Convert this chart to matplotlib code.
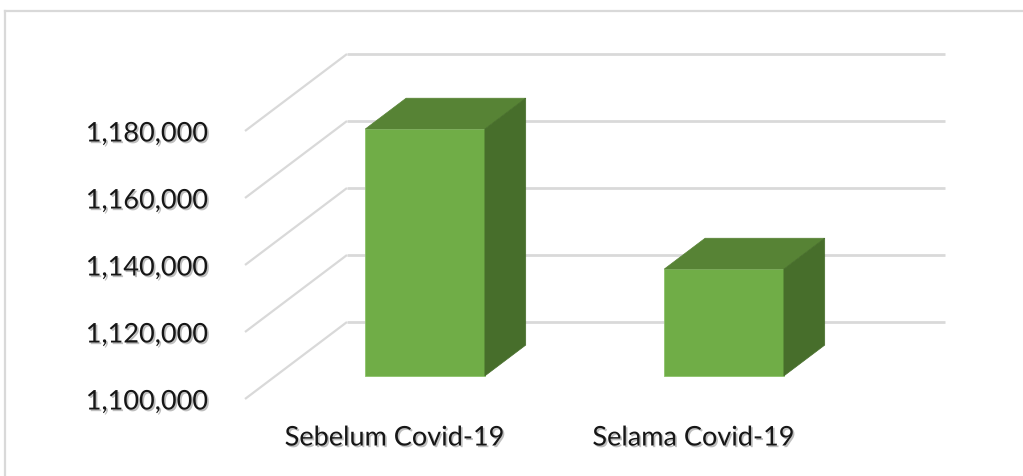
import matplotlib
matplotlib.use("Agg")
import matplotlib.pyplot as plt
import matplotlib.patheffects as pe
from matplotlib.patches import Polygon
from matplotlib.lines import Line2D

# ---- data ----
categories = ["Sebelum Covid-19", "Selama Covid-19"]
values = [1173700, 1131900]
tick_values = [1100000, 1120000, 1140000, 1160000, 1180000]
tick_labels = ["1,100,000", "1,120,000", "1,140,000", "1,160,000", "1,180,000"]

# ---- styling / layout constants ----
W, H, DPI = 1023, 477, 100
base = tick_values[0]
front_c = "#70AD47"
top_c = "#578335"
side_c = "#476E2B"
grid_c = "#D9D9D9"
text_c = "#161616"
font = ["Lato", "DejaVu Sans"]

fig = plt.figure(figsize=(W / DPI, H / DPI), dpi=DPI)
ax = fig.add_axes([0, 0, 1, 1])
px_per_cat = 299.0
px_per_val = 67.0 / 20000.0
x0_px, y0_px = 394.5, 77.0
ax.set_xlim((0 - x0_px) / px_per_cat, (W - x0_px) / px_per_cat)
ax.set_ylim(base - y0_px / px_per_val, base + (H - y0_px) / px_per_val)
ax.axis("off")

ddx = 102.0 / px_per_cat
ddv = 77.0 / px_per_val

n = len(categories)
xl, xr = -0.5, n - 0.5

for v in tick_values:
    ax.plot([xl, xl + ddx], [v, v + ddv], color=grid_c, lw=1.6, zorder=1,
            solid_capstyle="butt")
    ax.plot([xl + ddx, xr + ddx], [v + ddv, v + ddv], color=grid_c, lw=2.0,
            zorder=1, solid_capstyle="butt")

a, b, hw = 0.3, 0.7, 0.2
for i, v in enumerate(values):
    ax.bar(i + a * ddx, v - base, bottom=base + a * ddv, width=2 * hw,
           color=front_c, edgecolor="#8CC26A", linewidth=0.6, zorder=3)
    top = [(i - hw + a * ddx, v + a * ddv), (i + hw + a * ddx, v + a * ddv),
           (i + hw + b * ddx, v + b * ddv), (i - hw + b * ddx, v + b * ddv)]
    side = [(i + hw + a * ddx, base + a * ddv), (i + hw + b * ddx, base + b * ddv),
            (i + hw + b * ddx, v + b * ddv), (i + hw + a * ddx, v + a * ddv)]
    ax.add_patch(Polygon(top, closed=True, facecolor=top_c, edgecolor=top_c,
                         lw=0.5, zorder=3))
    ax.add_patch(Polygon(side, closed=True, facecolor=side_c, edgecolor=side_c,
                         lw=0.5, zorder=3))

shadow = [pe.SimplePatchShadow(offset=(1.2, -1.2), shadow_rgbFace="#707070", alpha=0.45),
          pe.Normal()]

for v, lab in zip(tick_values, tick_labels):
    ax.annotate(lab, (xl, v), xytext=(-37, -3), textcoords="offset pixels",
                ha="right", va="center", fontsize=19.5, color=text_c,
                family=font, path_effects=shadow, zorder=5)

for i, lab in enumerate(categories):
    ax.annotate(lab, (i, base), xytext=(0, -39), textcoords="offset pixels",
                ha="center", va="center", fontsize=19.5, color=text_c,
                family=font, path_effects=shadow, zorder=5)

fig.add_artist(Line2D([5 / W, 1.0], [1 - 12 / H, 1 - 12 / H],
                      transform=fig.transFigure, color=grid_c, lw=1.6))
fig.add_artist(Line2D([5 / W, 5 / W], [0.0, 1 - 12 / H],
                      transform=fig.transFigure, color=grid_c, lw=1.6))

fig.savefig("out.png", dpi=DPI, facecolor="white")
